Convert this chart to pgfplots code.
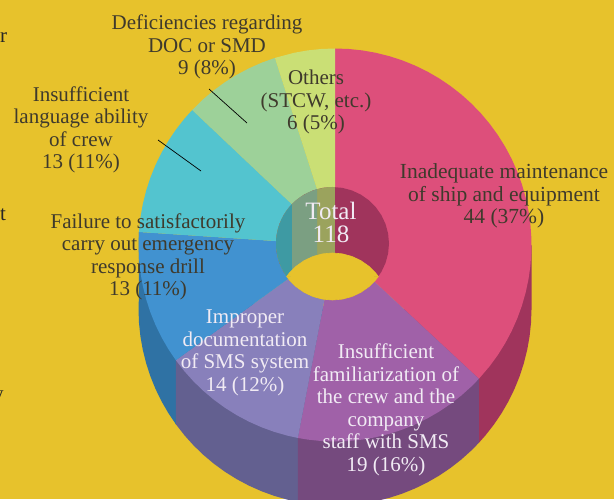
\documentclass[border=0pt]{standalone}
\usepackage{pgfplots}
\pgfplotsset{compat=1.18}
\usepackage{fontspec}
\setmainfont{Liberation Serif}
\definecolor{bg}{HTML}{E7C22C}
\definecolor{cpink}{HTML}{DD4F7B}
\definecolor{cpurple}{HTML}{A061A8}
\definecolor{cviolet}{HTML}{8880BB}
\definecolor{cblue}{HTML}{4192D0}
\definecolor{cteal}{HTML}{53C4CF}
\definecolor{cgreen}{HTML}{9DD199}
\definecolor{cyg}{HTML}{CADF75}
\definecolor{spink}{HTML}{A0345C}
\definecolor{spurple}{HTML}{754A7E}
\definecolor{sviolet}{HTML}{636090}
\definecolor{sblue}{HTML}{2F72A4}
\definecolor{wteal}{HTML}{3E9AA3}
\definecolor{wgreen}{HTML}{7B9F82}
\definecolor{wyg}{HTML}{9BA35D}
\definecolor{dtxt}{HTML}{3F3A2C}
\definecolor{ltxt}{HTML}{F1EBF4}
\pgfplotsset{
  pol/.style={fill=#1,draw=none,forget plot,data cs=polar},
  car/.style={fill=#1,draw=none,forget plot},
  wall/.style={fill=#1,draw=none,forget plot,data cs=polar,yshift=-64pt},
}
\begin{document}
\begin{tikzpicture}
\begin{axis}[
  scale only axis,width=614pt,height=499pt,
  xmin=-335,xmax=279,ymin=-254,ymax=245,
  hide axis,
]
% background
\addplot[car=bg] coordinates {(-335,-254)(279,-254)(279,245)(-335,245)};
% side walls: parallelogram + shifted sector
\addplot[car=sblue] coordinates {(-196.1,13)(-196.1,-51)(-159.2,-179.2)(-159.2,-115.2)};
\addplot[wall=sblue] coordinates {(0,0)(176.2,196.5)(180,196.5)(184,196.5)(188,196.5)(192,196.5)(196,196.5)(200,196.5)(204,196.5)(208,196.5)(212,196.5)(215.9,196.5)};
\addplot[car=spink] coordinates {(143.9,-133.8)(143.9,-197.8)(196.5,-64)(196.5,0)};
\addplot[wall=spink] coordinates {(0,0)(317.1,196.5)(320,196.5)(324,196.5)(328,196.5)(332,196.5)(336,196.5)(340,196.5)(344,196.5)(348,196.5)(352,196.5)(356,196.5)(360,196.5)};
\addplot[car=sviolet] coordinates {(-159.2,-115.2)(-159.2,-179.2)(-37.2,-257)(-37.2,-193)};
\addplot[wall=sviolet] coordinates {(0,0)(215.9,196.5)(220,196.5)(224,196.5)(228,196.5)(232,196.5)(236,196.5)(240,196.5)(244,196.5)(248,196.5)(252,196.5)(256,196.5)(259.1,196.5)};
\addplot[car=spurple] coordinates {(-37.2,-193)(-37.2,-257)(143.9,-197.8)(143.9,-133.8)};
\addplot[wall=spurple] coordinates {(0,0)(259.1,196.5)(262,196.5)(266,196.5)(270,196.5)(274,196.5)(278,196.5)(282,196.5)(286,196.5)(290,196.5)(294,196.5)(298,196.5)(302,196.5)(306,196.5)(310,196.5)(314,196.5)(317.1,196.5)};
% top surface
\addplot[pol=cpink] coordinates {(0,0)(90,196.5)(86,196.5)(82,196.5)(78,196.5)(74,196.5)(70,196.5)(66,196.5)(62,196.5)(58,196.5)(54,196.5)(50,196.5)(46,196.5)(42,196.5)(38,196.5)(34,196.5)(30,196.5)(26,196.5)(22,196.5)(18,196.5)(14,196.5)(10,196.5)(6,196.5)(2,196.5)(-2,196.5)(-6,196.5)(-10,196.5)(-14,196.5)(-18,196.5)(-22,196.5)(-26,196.5)(-30,196.5)(-34,196.5)(-38,196.5)(-42.9,196.5)};
\addplot[pol=cpurple] coordinates {(0,0)(259.1,196.5)(262,196.5)(266,196.5)(270,196.5)(274,196.5)(278,196.5)(282,196.5)(286,196.5)(290,196.5)(294,196.5)(298,196.5)(302,196.5)(306,196.5)(310,196.5)(314,196.5)(317.1,196.5)};
\addplot[pol=cviolet] coordinates {(0,0)(215.9,196.5)(220,196.5)(224,196.5)(228,196.5)(232,196.5)(236,196.5)(240,196.5)(244,196.5)(248,196.5)(252,196.5)(256,196.5)(259.1,196.5)};
\addplot[pol=cblue] coordinates {(0,0)(176.2,196.5)(180,196.5)(184,196.5)(188,196.5)(192,196.5)(196,196.5)(200,196.5)(204,196.5)(208,196.5)(212,196.5)(215.9,196.5)};
\addplot[pol=cteal] coordinates {(0,0)(136.6,196.5)(140,196.5)(144,196.5)(148,196.5)(152,196.5)(156,196.5)(160,196.5)(164,196.5)(168,196.5)(172,196.5)(176.2,196.5)};
\addplot[pol=cgreen] coordinates {(0,0)(107.8,196.5)(112,196.5)(116,196.5)(120,196.5)(124,196.5)(128,196.5)(132,196.5)(136.6,196.5)};
\addplot[pol=cyg] coordinates {(0,0)(90,196.5)(94,196.5)(98,196.5)(102,196.5)(107.8,196.5)};
% inner wall, as circular segments with vertical chords
\addplot[pol=spink,xshift=-2.5pt,yshift=1.5pt] coordinates {(0,56.5)(10,56.5)(20,56.5)(30,56.5)(40,56.5)(50,56.5)(60,56.5)(70,56.5)(80,56.5)(90,56.5)(100,56.5)(110,56.5)(120,56.5)(130,56.5)(140,56.5)(150,56.5)(160,56.5)(170,56.5)(180,56.5)(190,56.5)(200,56.5)(210,56.5)(220,56.5)(230,56.5)(240,56.5)(250,56.5)(260,56.5)(270,56.5)(280,56.5)(290,56.5)(300,56.5)(310,56.5)(320,56.5)(330,56.5)(340,56.5)(350,56.5)};
\addplot[pol=wyg,xshift=-2.5pt,yshift=1.5pt] coordinates {(87.5,56.5)(95,56.5)(105,56.5)(115,56.5)(125,56.5)(135,56.5)(145,56.5)(155,56.5)(165,56.5)(175,56.5)(185,56.5)(195,56.5)(205,56.5)(215,56.5)(225,56.5)(235,56.5)(245,56.5)(255,56.5)(265,56.5)(272.5,56.5)};
\addplot[pol=wgreen,xshift=-2.5pt,yshift=1.5pt] coordinates {(105.9,56.5)(115,56.5)(125,56.5)(135,56.5)(145,56.5)(155,56.5)(165,56.5)(175,56.5)(185,56.5)(195,56.5)(205,56.5)(215,56.5)(225,56.5)(235,56.5)(245,56.5)(254.1,56.5)};
\addplot[pol=wteal,xshift=-2.5pt,yshift=1.5pt] coordinates {(135.8,56.5)(145,56.5)(155,56.5)(165,56.5)(175,56.5)(185,56.5)(195,56.5)(205,56.5)(215,56.5)(224.2,56.5)};
% hole
\addplot[pol=bg,draw=bg,line width=0.6pt,xshift=-2.5pt,yshift=1.5pt] coordinates {(215.7,56.5)(220,56.5)(230,56.5)(240,56.5)(250,56.5)(260,56.5)(270,56.5)(280,56.5)(290,56.5)(300,56.5)(310,56.5)(320,56.5)(324.3,56.5)};
\addplot[pol=bg,draw=bg,line width=0.6pt,xshift=-2.5pt,yshift=-64.5pt] coordinates {(35.7,56.5)(40,56.5)(50,56.5)(60,56.5)(70,56.5)(80,56.5)(90,56.5)(100,56.5)(110,56.5)(120,56.5)(130,56.5)(140,56.5)(144.3,56.5)};
\addplot[car=bg] coordinates {(-48.4,-31.5)(-2.5,-29)(43.4,-31.5)(-2.5,-34)};
% leader lines
\addplot[black,line width=0.7pt,forget plot] coordinates {(-177,105)(-134,74)};
\addplot[black,line width=0.7pt,forget plot] coordinates {(-126,156)(-88,122)};
% labels
\node[text=dtxt,align=center,font=\fontsize{21}{22.5}\selectfont] at (axis cs:-128,198) {Deficiencies regarding\\DOC or SMD\\9 (8\%)};
\node[text=dtxt,align=center,font=\fontsize{21}{22.5}\selectfont] at (axis cs:-254,115) {Insufficient\\language ability\\of crew\\13 (11\%)};
\node[text=dtxt,align=center,font=\fontsize{21}{22.5}\selectfont] at (axis cs:-19,143) {Others\\(STCW, etc.)\\6 (5\%)};
\node[text=dtxt,align=center,font=\fontsize{21.5}{22.5}\selectfont] at (axis cs:169,49) {Inadequate maintenance\\of ship and equipment\\44 (37\%)};
\node[text=dtxt,align=center,font=\fontsize{21}{22.5}\selectfont] at (axis cs:-187,-12) {Failure to satisfactorily\\carry out emergency\\response drill\\13 (11\%)};
\node[text=ltxt,align=center,font=\fontsize{21}{22.5}\selectfont] at (axis cs:-90,-108) {Improper\\documentation\\of SMS system\\14 (12\%)};
\node[text=ltxt,align=center,font=\fontsize{21}{22.5}\selectfont] at (axis cs:51,-165) {Insufficient\\familiarization of\\the crew and the\\company\\staff with SMS\\19 (16\%)};
\node[text=ltxt,align=center,font=\fontsize{25}{23}\selectfont] at (axis cs:-4,23) {Total\\118};
\node[text=black!85,font=\fontsize{21}{24}\selectfont,anchor=west,inner sep=0pt] at (axis cs:-335,207) {r};
\node[text=black!85,font=\fontsize{21}{24}\selectfont,anchor=west,inner sep=0pt] at (axis cs:-335,30) {t};
\node[overlay,text=black!85,font=\fontsize{21}{24}\selectfont,anchor=west,inner sep=0pt] at (axis cs:-342,-153) {y};
\end{axis}
\end{tikzpicture}
\end{document}
